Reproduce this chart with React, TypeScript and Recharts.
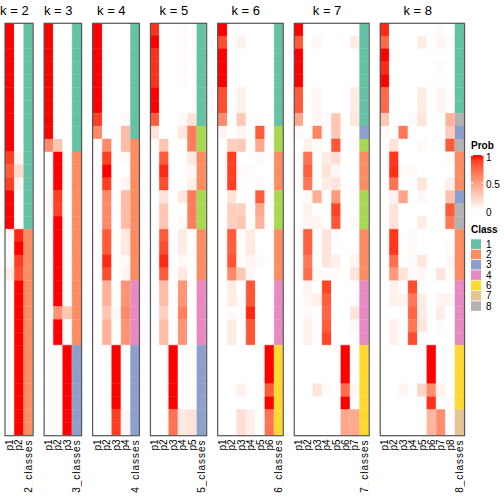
import React from 'react';
import { BarChart, Bar, XAxis, YAxis, Cell } from 'recharts';

// ---------- data (32 rows per panel, top to bottom) ----------
const K2_P1 = [1,1,1,1,1,1,1,1,1,1, 0.9,0.8,0.9,1,1,1, 0.03,0,0.03,0.1, 0,0,0,0,0,0,0,0,0,0,0,0];
const K2_P2 = [0,0,0,0,0,0,0,0,0,0, 0.06,0.2,0.06,0,0,0, 0.95,1,0.9,0.85, 1,1,1,1,1,1,1,1,1,1,1,1];
const K2_CLASS = [1,1,1,1,1,1,1,1,1,1,1,1,1,1,1,1, 2,2,2,2,2,2,2,2,2,2,2,2,2,2,2,2];

const K3_P1 = [1,1,1,1,1,1,1,1,1, 0.6, 0,0,0, 0.03,0.03, 0,0,0,0,0,0,0,0,0,0,0,0,0,0,0,0,0];
const K3_P2 = [0,0,0,0,0,0,0,0,0, 0.3, 1,1,1, 0.9,0.88, 1,1,1,1,1,1,1, 0.55, 1,1, 0,0,0,0,0,0,0];
const K3_P3 = [0,0,0,0,0,0,0,0,0,0,0,0,0,0,0,0,0,0,0,0,0,0, 0.3, 0,0, 1,1,1,1,1,1,1];
const K3_CLASS = [1,1,1,1,1,1,1,1,1,1, 2,2,2,2,2,2,2,2,2,2,2,2,2,2,2, 3,3,3,3,3,3,3];

const K4_P1 = [1,1,1,1,1,1,1, 0.9, 0.6, 0.02, 0,0,0,0,0,0,0,0,0,0,0,0,0,0,0,0,0,0,0,0,0,0];
const K4_P2 = [0,0,0,0,0,0,0,0,0, 0.6,0.9,1,0.9, 0.6,0.6,0.6, 0.8,0.8, 0.95,0.85, 0.4,0.4,0.3,0.4,0.4, 0,0,0,0,0,0,0];
const K4_P3 = [0,0,0,0,0,0,0,0,0,0,0,0,0,0,0,0,0,0,0,0,0,0, 0.03, 0,0, 1,1,1,1,1, 0.9,0.9];
const K4_P4 = [0,0,0,0,0,0,0, 0.03,0.35,0.35,0.03,0,0.05, 0.35,0.35,0.35, 0.12,0.12, 0.03,0.05, 0.55,0.55,0.6,0.55,0.55, 0,0,0,0,0, 0.04,0.04];
const K4_CLASS = [1,1,1,1,1,1,1,1,1, 2,2,2,2,2,2,2,2,2,2,2, 4,4,4,4,4, 3,3,3,3,3,3,3];

const K5_P1 = [0.93,1,0.93,0.93,0.93,1,1, 0.8,0.15,0.02, 0,0,0,0,0,0,0,0,0,0,0,0,0,0,0,0,0,0,0,0,0,0];
const K5_P2 = [0,0,0,0,0,0,0,0,0, 0.3,0.8,0.95,0.85, 0.15,0.3,0.3, 0.8,0.85,0.95,0.8, 0.35,0.35,0.25,0.35,0.35, 0,0,0,0,0,0,0];
const K5_P3 = [0,0,0,0,0,0,0,0,0,0,0,0,0,0,0,0,0,0,0,0,0,0,0,0,0, 1,1,1,1,1, 0.7,0.7];
const K5_P4 = [0.02,0.02,0.02,0.02,0.02, 0,0, 0.03,0.12, 0,0,0,0, 0.12,0,0.03, 0.1,0.1, 0.03,0.12, 0.55,0.55,0.65,0.55,0.55, 0,0,0,0,0, 0.12,0.12];
const K5_P5 = [0,0,0,0,0,0,0, 0.15,0.65,0.65,0.12,0.03,0.08, 0.65,0.65,0.65, 0,0,0,0,0,0,0,0,0,0,0,0,0,0, 0.15,0.15];
const K5_CLASS = [1,1,1,1,1,1,1,1, 5,5, 2,2,2, 5,5,5, 2,2,2,2, 4,4,4,4,4, 3,3,3,3,3,3,3];

const K6_P1 = [1,0.85,1,1,1,0.85,0.85, 0.6,0.05, 0,0,0,0,0,0,0,0,0,0,0,0,0,0,0,0,0,0,0,0,0,0,0];
const K6_P2 = [0,0,0,0,0,0,0,0,0, 0.25,0.9,0.9,0.9, 0.15,0.25,0.25, 0.8,0.78,0.83,0.6, 0.1,0.1,0.02,0.1,0.1, 0,0,0,0,0,0,0];
const K6_P3 = [0,0.07,0,0,0,0.07,0.07, 0.28,0.05,0.28, 0,0.02,0,0, 0.25,0.3, 0.02,0.02,0.02, 0.28, 0,0.02, 0,0,0,0,0,0, 0.08, 0, 0.17,0.17];
const K6_P4 = [0,0,0,0,0,0,0,0,0,0,0, 0.02, 0,0,0,0, 0.1,0.12,0.05,0.04, 0.82,0.82,0.95,0.82,0.82, 0,0,0,0,0, 0.08,0.08];
const K6_P5 = [0,0,0,0,0,0,0, 0.02,0.8,0.45,0.03,0,0.03, 0.8,0.45,0.4, 0,0, 0.02, 0,0,0,0,0,0,0,0,0, 0.02, 0,0,0];
const K6_P6 = [0,0,0,0,0,0,0,0,0,0,0,0,0,0,0,0,0,0,0,0,0,0,0,0,0, 1,1,1,0.8,1, 0.7,0.7];
const K6_CLASS = [1,1,1,1,1,1,1,1, 5,5, 2,2,2, 5,5,5, 2,2,2,2, 4,4,4,4,4, 6,6,6,6,6,6,6];

const K7_P1 = [1,0.8,1,1,1,0.8,0.8, 0.45,0.03, 0,0,0,0,0,0,0,0,0,0,0,0,0,0,0,0,0,0,0,0,0,0,0];
const K7_P2 = [0,0,0,0,0,0,0,0,0, 0.07,0.7,0.78,0.68,0.03,0.07,0.05,0.78,0.78,0.68,0.72,0.06,0.04,0.03,0.07,0.07, 0,0,0,0,0,0,0];
const K7_P3 = [0,0.04,0,0,0,0.04,0.04, 0.04,0.62,0.03, 0,0,0, 0.42,0,0.05, 0,0,0, 0.03, 0,0.08, 0,0,0,0,0,0, 0.14, 0,0,0];
const K7_P4 = [0,0,0,0,0,0,0, 0.02, 0,0, 0.1,0.14,0.1, 0,0,0, 0.14,0.14,0.14,0.02, 0.88,0.8,0.76,0.8,0.88, 0,0,0, 0.02, 0,0,0];
const K7_P5 = [0,0,0,0,0,0,0, 0.3,0.3,0.82,0.17,0.04,0.14,0.52,0.88,0.82,0.02,0,0.08,0.02, 0,0,0,0,0,0,0,0,0,0,0,0];
const K7_P6 = [0,0,0,0,0,0,0,0,0,0,0,0,0,0,0,0,0,0,0,0,0,0,0,0,0, 1,1,1,0.72,1, 0.45,0.45];
const K7_P7 = [0,0.1,0,0,0,0.1,0.1, 0.13,0,0.03, 0,0,0, 0.02,0,0.03, 0,0, 0.06,0.14, 0,0.02,0.14,0.04, 0,0,0,0, 0.05, 0, 0.45,0.45];
const K7_CLASS = [1,1,1,1,1,1,1,1, 3, 5, 2,2,2, 5,5,5, 2,2,2,2, 4,4,4,4,4, 6,6,6,6,6,6,6];

const K8_P1 = [0.95,0.75,1,0.95,1,0.75,0.75, 0.3,0.03, 0,0,0,0,0,0,0,0,0,0,0,0,0,0,0,0,0,0,0,0,0,0,0];
const K8_P2 = [0,0,0,0,0,0,0,0,0, 0.15,0.92,0.94,0.7,0.07,0.15,0.15,0.92,0.92,0.72,0.52,0.07,0.07,0,0.07,0.07, 0,0,0,0,0,0,0];
const K8_P3 = [0,0,0,0,0,0,0,0, 0.68, 0,0, 0.02, 0, 0.48, 0,0,0,0,0, 0.15, 0, 0.06, 0,0,0,0,0,0, 0.05, 0,0,0];
const K8_P4 = [0,0,0,0,0,0,0, 0.03, 0,0,0, 0.02, 0,0,0,0, 0.02,0.03,0.02,0.02, 0.85,0.68,0.76,0.68,0.85, 0,0,0,0,0,0,0];
const K8_P5 = [0,0.1,0,0,0,0.1,0.1, 0.14,0,0.03, 0,0, 0.13,0.04,0,0.1, 0,0, 0.13,0.04, 0,0.1,0.1,0.13, 0,0,0,0, 0.22, 0,0,0];
const K8_P6 = [0,0,0,0,0,0,0,0,0,0,0,0,0,0,0,0,0,0,0,0,0,0,0,0,0, 1,1,1,0.58,0.93, 0.38,0.38];
const K8_P7 = [0.02,0.05,0,0.02,0,0.05,0.05, 0,0,0,0,0,0,0,0,0,0,0,0, 0.13,0,0.05,0.1,0.02, 0,0,0,0, 0.07, 0, 0.58,0.58];
const K8_P8 = [0,0.02,0,0,0,0.02,0.02, 0.4,0.27,0.8,0.03,0,0.08,0.32,0.8,0.68,0,0.02,0.04,0.02,0,0.05, 0,0,0,0,0,0,0, 0.02, 0,0];
const K8_CLASS = [1,1,1,1,1,1,1, 8, 3, 8, 2,2,2, 3, 8,8, 2,2,2,2, 4,4,4,4,4, 6,6,6,6,6, 7,7];

const PANELS = [
  { k: 2, probs: [K2_P1, K2_P2], classes: K2_CLASS },
  { k: 3, probs: [K3_P1, K3_P2, K3_P3], classes: K3_CLASS },
  { k: 4, probs: [K4_P1, K4_P2, K4_P3, K4_P4], classes: K4_CLASS },
  { k: 5, probs: [K5_P1, K5_P2, K5_P3, K5_P4, K5_P5], classes: K5_CLASS },
  { k: 6, probs: [K6_P1, K6_P2, K6_P3, K6_P4, K6_P5, K6_P6], classes: K6_CLASS },
  { k: 7, probs: [K7_P1, K7_P2, K7_P3, K7_P4, K7_P5, K7_P6, K7_P7], classes: K7_CLASS },
  { k: 8, probs: [K8_P1, K8_P2, K8_P3, K8_P4, K8_P5, K8_P6, K8_P7, K8_P8], classes: K8_CLASS },
];

const CLASS_COLORS: Record<number, string> = {
  1: '#66C2A5', 2: '#FC8D62', 3: '#8DA0CB', 4: '#E78AC3',
  5: '#A6D854', 6: '#FFD92F', 7: '#E5C494', 8: '#B3B3B3',
};
const LEGEND_CLASSES = [1, 2, 3, 4, 6, 7, 8];
const PROB_TICKS = [1, 0.5, 0];
const N_ROWS = 32;

// ---------- colour ramp white -> red in LAB ----------
function toLin(c: number) { c /= 255; return c <= 0.04045 ? c / 12.92 : Math.pow((c + 0.055) / 1.055, 2.4); }
function fromLin(c: number) { const v = c <= 0.0031308 ? 12.92 * c : 1.055 * Math.pow(c, 1 / 2.4) - 0.055; return Math.max(0, Math.min(255, Math.round(v * 255))); }
function rgb2lab(r: number, g: number, b: number) {
  const R = toLin(r), G = toLin(g), B = toLin(b);
  const X = (0.4124 * R + 0.3576 * G + 0.1805 * B) / 0.95047;
  const Y = 0.2126 * R + 0.7152 * G + 0.0722 * B;
  const Z = (0.0193 * R + 0.1192 * G + 0.9505 * B) / 1.08883;
  const f = (t: number) => (t > 0.008856 ? Math.cbrt(t) : 7.787 * t + 16 / 116);
  const fx = f(X), fy = f(Y), fz = f(Z);
  return [116 * fy - 16, 500 * (fx - fy), 200 * (fy - fz)];
}
function lab2rgb(L: number, a: number, b: number) {
  const fy = (L + 16) / 116, fx = fy + a / 500, fz = fy - b / 200;
  const fi = (t: number) => (t > 0.206893 ? t * t * t : (t - 16 / 116) / 7.787);
  const X = fi(fx) * 0.95047, Y = fi(fy), Z = fi(fz) * 1.08883;
  const R = 3.2406 * X - 1.5372 * Y - 0.4986 * Z;
  const G = -0.9689 * X + 1.8758 * Y + 0.0415 * Z;
  const B = 0.0557 * X - 0.204 * Y + 1.057 * Z;
  return `rgb(${fromLin(R)},${fromLin(G)},${fromLin(B)})`;
}
const LAB_W = rgb2lab(255, 255, 255);
const LAB_R = rgb2lab(255, 0, 0);
function probColor(v: number) {
  const t = Math.max(0, Math.min(1, v));
  return lab2rgb(
    LAB_W[0] + (LAB_R[0] - LAB_W[0]) * t,
    LAB_W[1] + (LAB_R[1] - LAB_W[1]) * t,
    LAB_W[2] + (LAB_R[2] - LAB_W[2]) * t,
  );
}

// ---------- layout ----------
const COL_W = 9.37;
const GAP = 11;
const X0 = 5;
const PLOT_TOP = 23.3;
const PLOT_H = 412.4;
const LABEL_H = 70;
const FONT = '"Liberation Sans", Arial, Helvetica, sans-serif';

const LabelTick = (props: any) => {
  const { x, y, payload } = props;
  const s = String(payload.value);
  const isClass = s.indexOf('classes') >= 0;
  return (
    <text
      transform={`translate(${x + 3.4},${y}) rotate(-90)`}
      textAnchor="end"
      fontSize={10}
      fontFamily={FONT}
      fill="#000"
      letterSpacing={isClass ? 1 : 0}
    >
      {s}
    </text>
  );
};

const ROW_KEYS = Array.from({ length: N_ROWS }, (_, i) => `r${i}`);

function Panel({ k, probs, classes, left }: { k: number; probs: number[][]; classes: number[]; left: number }) {
  const ncols = k + 1;
  const width = ncols * COL_W;
  const names = [...probs.map((_, i) => `p${i + 1}`), `${k}_classes`];
  const data = names.map((name) => {
    const o: any = { name };
    ROW_KEYS.forEach((rk) => { o[rk] = 1; });
    return o;
  });
  const cellFill = (ci: number, r: number) =>
    ci < k ? probColor(probs[ci][r]) : CLASS_COLORS[classes[r]];
  return (
    <div style={{ position: 'absolute', left, top: PLOT_TOP }}>
      <BarChart
        width={width}
        height={PLOT_H + LABEL_H}
        data={data}
        margin={{ top: 0, right: 0, bottom: 0, left: 0 }}
        barCategoryGap={0}
        barGap={0}
      >
        <XAxis
          dataKey="name"
          interval={0}
          height={LABEL_H}
          tickLine={false}
          axisLine={false}
          tickSize={0}
          tickMargin={4}
          tick={<LabelTick />}
        />
        <YAxis type="number" domain={[0, N_ROWS]} reversed hide allowDataOverflow />
        {ROW_KEYS.map((rk, r) => (
          <Bar key={rk} dataKey={rk} stackId="s" isAnimationActive={false}>
            {names.map((n, ci) => {
              const f = cellFill(ci, r);
              return <Cell key={n} fill={f} stroke={f} strokeWidth={0.4} />;
            })}
          </Bar>
        ))}
      </BarChart>
    </div>
  );
}

export default function App() {
  let cursor = X0;
  const layout = PANELS.map((p) => {
    const left = cursor;
    cursor += (p.k + 1) * COL_W + GAP;
    return { ...p, left };
  });
  const gradStops = [0, 0.1, 0.2, 0.3, 0.4, 0.5, 0.6, 0.7, 0.8, 0.9, 1];
  const gTop = 155, gH = 55, gX = 471, gW = 12.5;
  return (
    <div style={{ position: 'absolute', left: 0, top: 0, width: 504, height: 504, background: '#fff', fontFamily: FONT }}>
      {layout.map((p) => (
        <Panel key={p.k} k={p.k} probs={p.probs} classes={p.classes} left={p.left} />
      ))}
      <svg width={504} height={504} style={{ position: 'absolute', left: 0, top: 0, pointerEvents: 'none' }}>
        {layout.map((p) => (
          <g key={p.k}>
            <text x={p.left + (p.k * COL_W) / 2} y={15} textAnchor="middle" fontSize={13} fontFamily={FONT} fill="#000">
              {`k = ${p.k}`}
            </text>
            <rect
              x={p.left}
              y={PLOT_TOP}
              width={(p.k + 1) * COL_W}
              height={PLOT_H}
              fill="none"
              stroke="#555"
              strokeWidth={1.2}
            />
          </g>
        ))}
        <defs>
          <linearGradient id="probGrad" x1="0" y1="1" x2="0" y2="0">
            {gradStops.map((s) => (
              <stop key={s} offset={s} stopColor={probColor(s)} />
            ))}
          </linearGradient>
        </defs>
        <text x={gX} y={149} fontSize={10} fontWeight="bold" fontFamily={FONT}>Prob</text>
        <rect x={gX} y={gTop} width={gW} height={gH} fill="url(#probGrad)" />
        {PROB_TICKS.map((t) => {
          const yy = gTop + (1 - t) * gH;
          return (
            <g key={t}>
              {t > 0 && <line x1={gX} x2={gX + 2} y1={yy + 0.5} y2={yy + 0.5} stroke="#fff" strokeWidth={1} />}
              {t > 0 && <line x1={gX + gW - 2} x2={gX + gW} y1={yy + 0.5} y2={yy + 0.5} stroke="#fff" strokeWidth={1} />}
              <text x={486} y={yy + 2} fontSize={10} dominantBaseline="central" fontFamily={FONT}>{t}</text>
            </g>
          );
        })}
        <text x={gX} y={233} fontSize={10} fontWeight="bold" fontFamily={FONT}>Class</text>
        {LEGEND_CLASSES.map((c, i) => {
          const yy = 239.3 + i * 10.33;
          return (
            <g key={c}>
              <rect x={gX} y={yy} width={10} height={9.6} fill={CLASS_COLORS[c]} />
              <text x={486} y={yy + 5} fontSize={10} dominantBaseline="central" fontFamily={FONT}>{c}</text>
            </g>
          );
        })}
      </svg>
    </div>
  );
}
